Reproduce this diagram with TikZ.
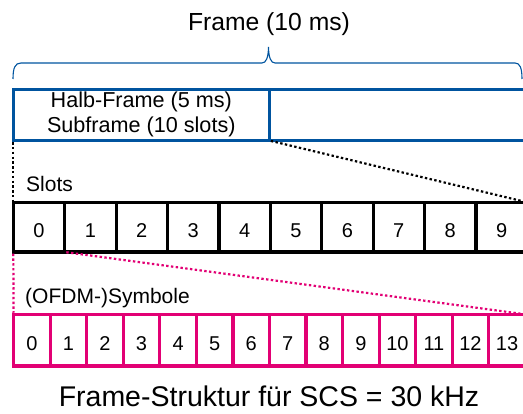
\documentclass[tikz,border=0pt]{standalone}
\usepackage{fontspec}
\setmainfont{Liberation Sans}
\definecolor{frameblue}{RGB}{0,84,159}
\definecolor{symmagenta}{RGB}{226,0,116}

\begin{document}
\begin{tikzpicture}[x=1pt, y=-1pt,
    box/.style = {draw, line width=3.2pt, outer sep=0pt, inner sep=0pt,
      text height=20pt, text depth=0pt, font=\fontsize{20}{24}\selectfont},
    halfbox/.style = {draw=frameblue, line width=3.2pt, outer sep=0pt, inner sep=0pt,
      minimum width=256pt, minimum height=51.3pt, align=center,
      font=\fontsize{21.6}{25}\selectfont},
    slotbox/.style = {box, minimum width=51.4pt, minimum height=49.7pt},
    symbox/.style = {box, draw=symmagenta, minimum width=36.55pt, minimum height=51.7pt},
    rowlabel/.style = {anchor=base west, inner sep=0pt, font=\fontsize{21}{24}\selectfont},
    zoomline/.style = {line width=2.2pt, dash pattern=on 2.4pt off 2.4pt,
      shorten <=1.6pt, shorten >=1.6pt}]
  \useasboundingbox (0,0) rectangle (523,414);

  \node (title) [anchor=base, inner sep=0pt, font=\fontsize{24.7}{28}\selectfont] at (269,31) {Frame (10 ms)};
  \draw [draw=frameblue, line width=1.1pt] (13,79) .. controls (13,68) and (15,63) .. (21,63)
    -- (262,63) .. controls (266,63) and (268.3,58) .. (268.5,47)
    .. controls (268.7,58) and (271,63) .. (275,63)
    -- (515,63) .. controls (520,63) and (522,68) .. (522,79);

  \node (half1) [halfbox] at (141.3,114.9) {Halb-Frame (5 ms)\\Subframe (10 slots)};
  \node (half2) [halfbox] at (397.3,114.9) {};

  \node (slotslabel) [rowlabel] at (26,191.7) {Slots};
  \foreach \i in {0,...,9}
    \node (slot\i) [slotbox] at ({13.3+51.4*(\i+0.5)},227.2) {\i};

  \node (symlabel) [rowlabel] at (25,304) {(OFDM-)Symbole};
  \foreach \i in {0,...,13}
    \node (sym\i) [symbox] at ({13.6+36.55*(\i+0.5)},340.2) {\i};

  \draw [zoomline] (half1.south west) -- (slot0.north west);
  \draw [zoomline] (half1.south east) -- (slot9.north east);
  \draw [zoomline, draw=symmagenta] (slot0.south west) -- (sym0.north west);
  \draw [zoomline, draw=symmagenta] (slot0.south east) -- (sym13.north east);

  \node (caption) [anchor=base, inner sep=0pt, font=\fontsize{28.5}{32}\selectfont] at (269,406.5) {Frame-Struktur f\"ur SCS = 30 kHz};
\end{tikzpicture}
\end{document}
